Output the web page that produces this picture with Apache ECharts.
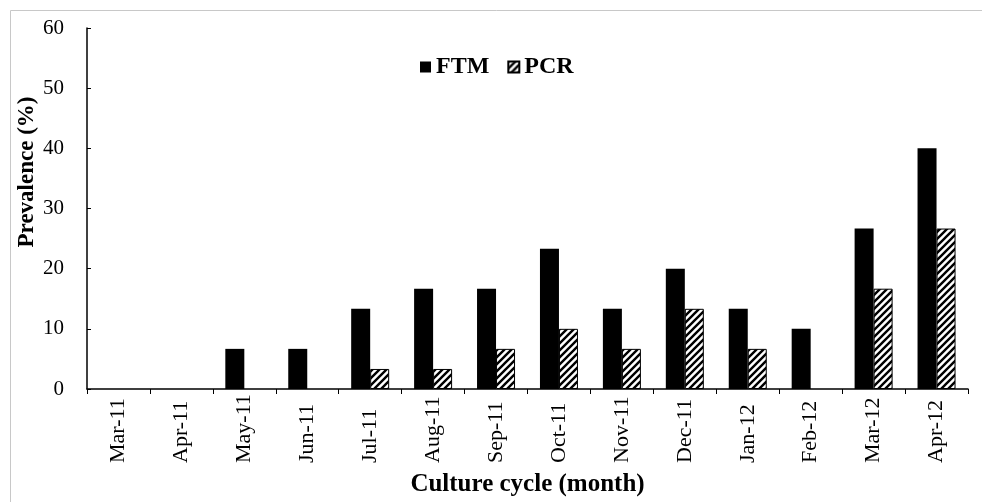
<!DOCTYPE html>
<html>
<head>
<meta charset="utf-8">
<script src="https://cdn.jsdelivr.net/npm/echarts@6/dist/echarts.min.js"></script>
<style>html,body{margin:0;padding:0;background:#fff;}#c{width:982px;height:502px;}</style>
</head>
<body>
<div id="c"></div>
<script>
const categories = ['Mar-11','Apr-11','May-11','Jun-11','Jul-11','Aug-11','Sep-11','Oct-11','Nov-11','Dec-11','Jan-12','Feb-12','Mar-12','Apr-12'];
const ftm = [0, 0, 6.67, 6.67, 13.33, 16.67, 16.67, 23.33, 13.33, 20, 13.33, 10, 26.67, 40];
const pcr = [0, 0, 0, 0, 3.33, 3.33, 6.67, 10, 6.67, 13.33, 6.67, 0, 16.67, 26.67];
const yTicks = {min: 0, max: 60, interval: 10};

function hatch() {
  const s = 7;
  const c = document.createElement('canvas');
  c.width = s; c.height = s;
  const ctx = c.getContext('2d');
  ctx.fillStyle = '#fff';
  ctx.fillRect(0, 0, s, s);
  ctx.strokeStyle = '#000';
  ctx.lineWidth = 2.4;
  ctx.beginPath();
  ctx.moveTo(-1, s + 1); ctx.lineTo(s + 1, -1);
  ctx.moveTo(-2, 2); ctx.lineTo(2, -2);
  ctx.moveTo(s - 2, s + 2); ctx.lineTo(s + 2, s - 2);
  ctx.stroke();
  return c;
}

const font = '"Liberation Serif", "Times New Roman", serif';
const chart = echarts.init(document.getElementById('c'), null, {renderer: 'canvas'});
chart.setOption({
  animation: false,
  backgroundColor: '#fff',
  textStyle: {fontFamily: font, color: '#000'},
  grid: {left: 87, right: 14, top: 28, bottom: 113, containLabel: false},
  legend: {
    left: 415, top: 50,
    itemWidth: 11, itemHeight: 11, itemGap: 18,
    textStyle: {fontFamily: font, fontSize: 24, fontWeight: 'bold', color: '#000'},
    data: [{name: 'FTM', icon: 'rect'}, {name: 'PCR', icon: 'rect'}]
  },
  xAxis: {
    type: 'category',
    data: categories,
    name: 'Culture cycle (month)',
    nameLocation: 'middle',
    nameGap: 83,
    nameTextStyle: {fontFamily: font, fontSize: 25, fontWeight: 'bold', color: '#000'},
    axisLine: {lineStyle: {color: '#000', width: 1.5}},
    axisTick: {show: true, inside: false, length: 5, lineStyle: {color: '#000'}},
    axisLabel: {interval: 0, rotate: 90, align: 'left', margin: 74, padding: [8, 0, 0, 0], fontFamily: font, fontSize: 22, color: '#000'},
    splitLine: {show: false}
  },
  yAxis: {
    type: 'value',
    min: yTicks.min, max: yTicks.max, interval: yTicks.interval,
    axisLine: {show: true, lineStyle: {color: '#000', width: 1.5}},
    axisTick: {show: true, inside: true, length: 4, lineStyle: {color: '#000'}},
    axisLabel: {margin: 23, fontFamily: font, fontSize: 21, color: '#000'},
    splitLine: {show: false}
  },
  series: [
    {name: 'FTM', type: 'bar', data: ftm, barWidth: 19, barGap: '0%',
     itemStyle: {color: '#000', borderWidth: 0}},
    {name: 'PCR', type: 'bar', barWidth: 19,
     data: pcr.map(v => ({value: v, itemStyle: {borderWidth: v ? 1 : 0}})),
     itemStyle: {color: {image: hatch(), repeat: 'repeat'}, borderColor: '#000', borderWidth: 1}}
  ],
  graphic: [
    {type: 'rect', shape: {x: 10.5, y: 10.5, width: 1000, height: 600}, style: {fill: 'none', stroke: '#c8c8c8', lineWidth: 1}, silent: true},
    {type: 'text', x: 27, y: 172, rotation: Math.PI / 2,
     style: {text: 'Prevalence (%)', font: 'bold 23px ' + font, fill: '#000', align: 'center', verticalAlign: 'middle'}}
  ]
});
</script>
</body>
</html>
